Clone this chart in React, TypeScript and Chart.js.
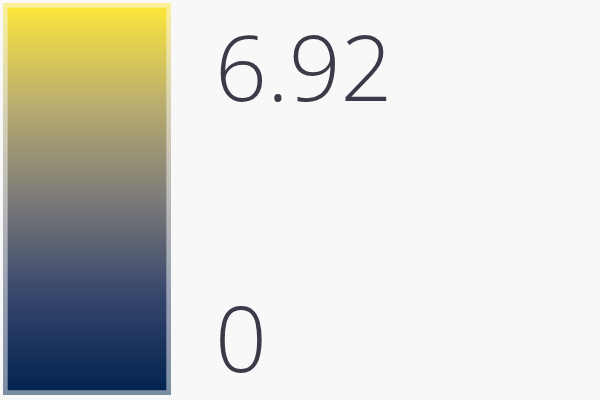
import React, { useEffect, useRef } from 'react';
import { Chart, registerables } from 'chart.js';

Chart.register(...registerables);

const categories = [''];
const barRange: [number, number] = [-1.25, 8.76];
const tickValues = [0, 6.92];
const cividisStops = ['#00224e', '#35456c', '#7c7b78', '#bcaf6f', '#fee838'];

function hexA(hex: string, a: number) {
  const n = parseInt(hex.slice(1), 16);
  return `rgba(${(n >> 16) & 255},${(n >> 8) & 255},${n & 255},${a})`;
}

function cividis(c: any, alpha: number) {
  const area = c.chart.chartArea;
  if (!area) return hexA(cividisStops[2], alpha);
  const g = c.chart.ctx.createLinearGradient(0, area.bottom, 0, area.top);
  cividisStops.forEach((col, i) => g.addColorStop(i / (cividisStops.length - 1), hexA(col, alpha)));
  return g;
}

export default function App() {
  const canvasRef = useRef<HTMLCanvasElement>(null);
  const chartRef = useRef<Chart | null>(null);

  useEffect(() => {
    document.body.style.margin = '0';
    document.body.style.background = '#f8f8f8';
    if (!canvasRef.current) return;
    const ctx = canvasRef.current.getContext('2d');
    if (!ctx) return;
    if (chartRef.current) chartRef.current.destroy();

    chartRef.current = new Chart(ctx, {
      type: 'bar',
      data: {
        labels: categories,
        datasets: [{
          data: [barRange] as any,
          backgroundColor: (c: any) => cividis(c, 1),
          borderColor: (c: any) => cividis(c, 0.5),
          borderWidth: 5,
          borderSkipped: false,
          barPercentage: 1,
          categoryPercentage: 1
        }]
      },
      options: {
        animation: false,
        responsive: true,
        maintainAspectRatio: false,
        layout: { padding: { left: 3, top: 3, bottom: 5, right: 0 } },
        scales: {
          x: { display: false },
          y: {
            position: 'right',
            min: barRange[0],
            max: barRange[1],
            afterBuildTicks: (s: any) => { s.ticks = tickValues.map((v) => ({ value: v })); },
            afterFit: (s: any) => {
              s.width = 600 - 171;
              s.paddingTop = 0;
              s.paddingBottom = 0;
            },
            grid: { display: false, drawTicks: false },
            border: { display: false },
            ticks: {
              padding: 44,
              color: '#3a3a48',
              font: { size: 91, family: 'Open Sans', weight: 300 },
              callback: (v) => String(v)
            }
          }
        },
        plugins: {
          legend: { display: false },
          tooltip: { enabled: false }
        }
      }
    });

    return () => { if (chartRef.current) chartRef.current.destroy(); };
  }, []);

  return (
    <div style={{ width: 600, height: 400, position: 'relative' }}>
      <canvas ref={canvasRef} />
    </div>
  );
}
